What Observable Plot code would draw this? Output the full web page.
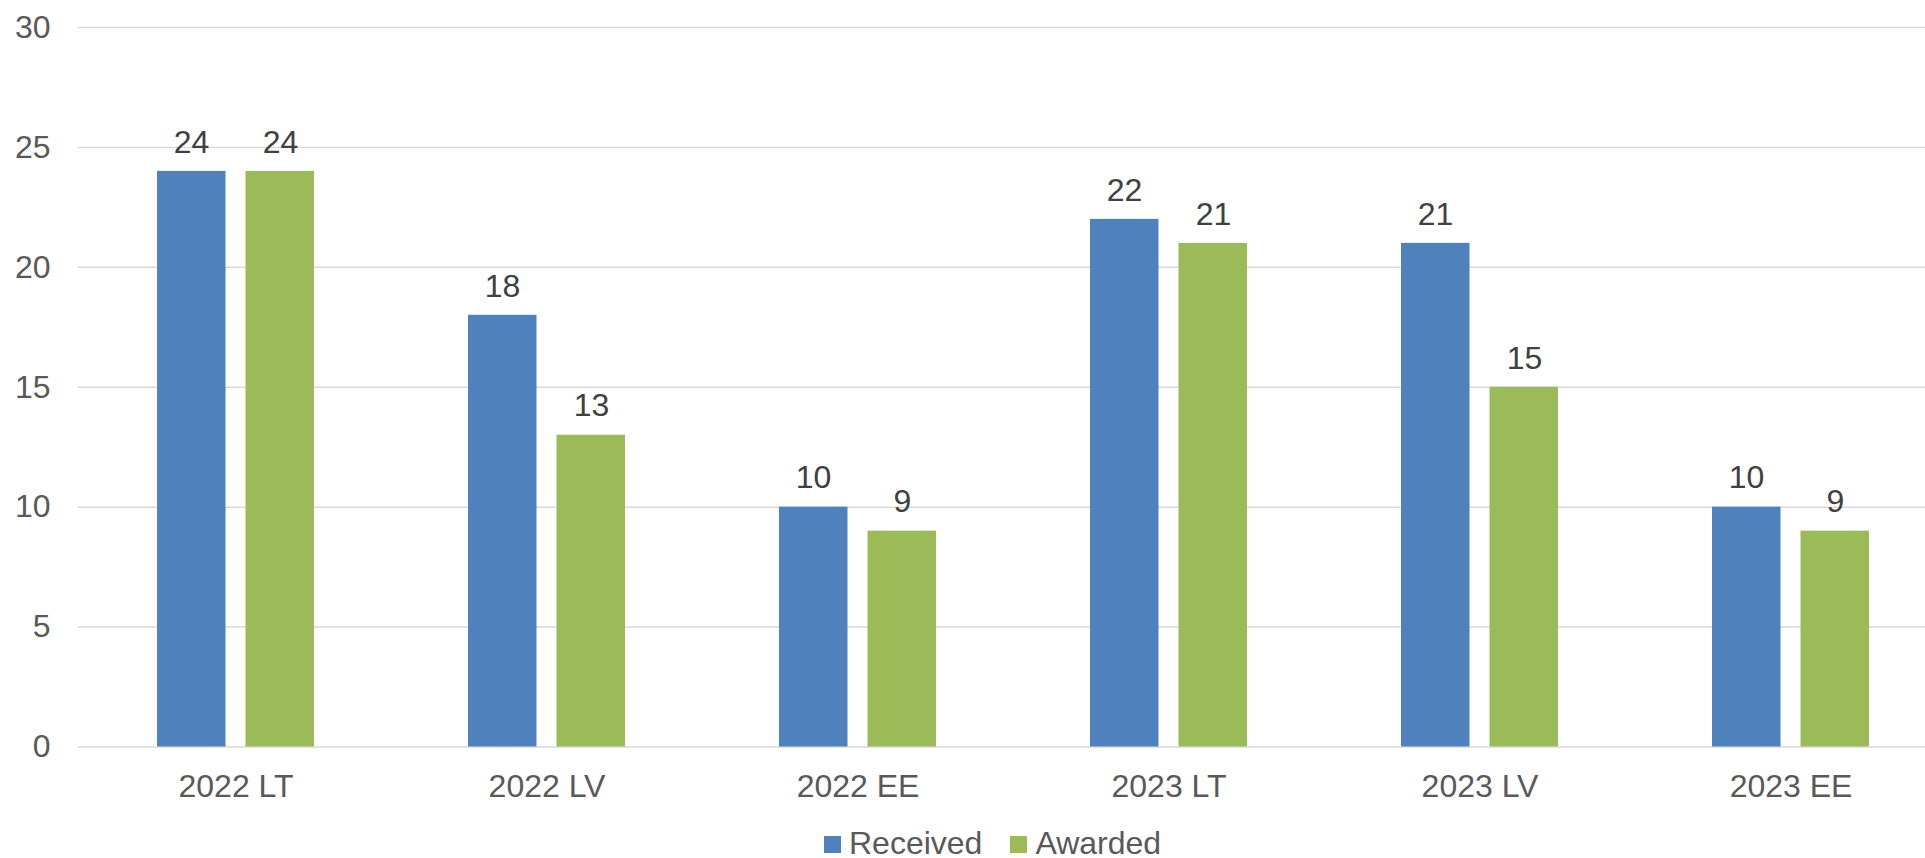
<!DOCTYPE html>
<html>
<head>
<meta charset="utf-8">
<script src="https://cdn.jsdelivr.net/npm/d3@7"></script>
<script src="https://cdn.jsdelivr.net/npm/@observablehq/plot@0.6"></script>
<style>
  html, body { margin: 0; padding: 0; background: #fff; overflow: hidden; }
  #wrap { position: relative; width: 1925px; height: 858px; overflow: hidden; }
  #chart { width: 1947px; }
  #chart svg { display: block; max-width: none !important; height: 812px !important; }
  #legend { position: absolute; left: 824px; top: 829px; font-family: "Liberation Sans", Arial, sans-serif; font-size: 32px; line-height: 28px; color: #595959; white-space: nowrap; }
  .sw { display: inline-block; width: 17px; height: 17px; margin-bottom: 1px; vertical-align: baseline; }
</style>
</head>
<body>
<div id="wrap">
  <div id="chart"></div>
  <div id="legend"></div>
</div>
<script>
const categories = ["2022 LT", "2022 LV", "2022 EE", "2023 LT", "2023 LV", "2023 EE"];
const series = ["Received", "Awarded"];
const colors = ["#4F81BD", "#9BBB59"];
const received = [24, 18, 10, 22, 21, 10];
const awarded = [24, 13, 9, 21, 15, 9];
const yTicks = [0, 5, 10, 15, 20, 25, 30];

const recData = categories.map((c, i) => ({cat: c, value: received[i]}));
const awdData = categories.map((c, i) => ({cat: c, value: awarded[i]}));

const font = '"Liberation Sans", Arial, sans-serif';

const plot = Plot.plot({
  width: 1947,
  height: 812,
  marginLeft: 78,
  marginRight: 0,
  marginTop: 27,
  marginBottom: 65.5,
  style: {fontFamily: font, fontSize: "32px", background: "#fff", maxWidth: "none"},
  x: {domain: categories, padding: 0},
  y: {domain: [0, 30]},
  marks: [
    Plot.gridY(yTicks, {stroke: "#d9d9d9", strokeOpacity: 1, strokeWidth: 1.5}),
    Plot.axisY(yTicks, {tickSize: 0, tickPadding: 28, color: "#595959", label: null, fontSize: 32}),
    Plot.axisX({tickSize: 0, tickPadding: 27, color: "#595959", label: null, fontSize: 32}),
    Plot.barY(recData, {x: "cat", y: "value", fill: colors[0], insetLeft: 77, insetRight: 165.5}),
    Plot.barY(awdData, {x: "cat", y: "value", fill: colors[1], insetLeft: 165.5, insetRight: 77}),
    Plot.text(recData, {x: "cat", y: "value", text: d => String(d.value), dx: -44.5, dy: -29, fill: "#404040", fontSize: 32}),
    Plot.text(awdData, {x: "cat", y: "value", text: d => String(d.value), dx: 44.5, dy: -29, fill: "#404040", fontSize: 32})
  ]
});
document.getElementById("chart").appendChild(plot);

const legend = document.getElementById("legend");
series.forEach((s, i) => {
  const item = document.createElement("span");
  item.style.marginRight = i === 0 ? "28px" : "0";
  const sw = document.createElement("span");
  sw.className = "sw";
  sw.style.background = colors[i];
  sw.style.marginRight = "8px";
  item.appendChild(sw);
  item.appendChild(document.createTextNode(s));
  legend.appendChild(item);
});
</script>
</body>
</html>
